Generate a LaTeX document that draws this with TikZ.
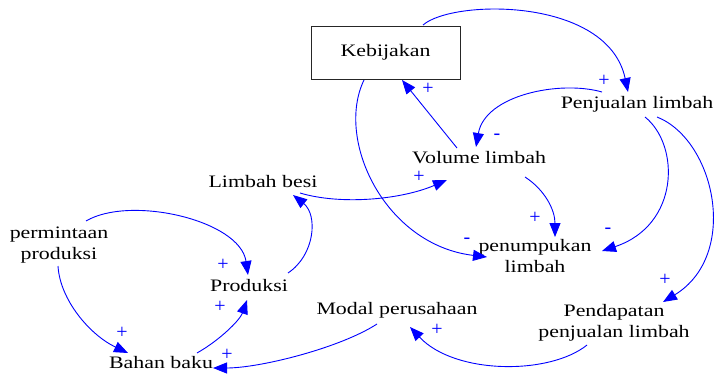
\documentclass[tikz,border=0pt]{standalone}
\usepackage{fontspec}
\setmainfont{Liberation Serif}[FakeStretch=1.25]
\newfontfamily\signfont{Liberation Serif}
\usetikzlibrary{arrows.meta,calc}
\begin{document}
\begin{tikzpicture}[x=1pt,y=-1pt,
  lbl/.style={inner sep=0pt,align=center,font=\fontsize{17.5}{21.5}\selectfont},
  sgn/.style={inner sep=0pt,text=blue,font=\signfont\fontsize{20}{20}\selectfont},
  lnk/.style={draw=blue,line width=0.9pt,-{Triangle[length=14pt,width=11pt]},fill=none}]
\fill[white] (0,0) rectangle (719,379);
\useasboundingbox (0,0) rectangle (719,379);
% nodes
\node[draw=black!85,line width=0.9pt,minimum width=149pt,minimum height=53pt,inner sep=0pt,font=\fontsize{17.5}{21.5}\selectfont] (keb) at (385.5,52.5) {Kebijakan};
\node[lbl] (pj) at (637,104) {Penjualan limbah};
\node[lbl] (vol) at (479,158) {Volume limbah};
\node[lbl] (lb) at (263,182) {Limbah besi};
\node[lbl] (perm) at (59,245) {permintaan\\produksi};
\node[lbl] (prod) at (249,286) {Produksi};
\node[lbl] (bb) at (161,363) {Bahan baku};
\node[lbl] (modal) at (397,310) {Modal perusahaan};
\node[lbl] (penum) at (535,256) {penumpukan\\limbah};
\node[lbl] (pend) at (614,323) {Pendapatan\\penjualan limbah};
% links
\draw[lnk] ($(keb)+(37.5,-27.5)$) .. controls +(30,-26) and +(-20,-95) .. ($(pj)+(-9,-12)$);
\draw[lnk] ($(pj)+(-35,-12)$) .. controls +(-42,-12) and +(9,-52) .. ($(vol)+(-3,-11)$);
\draw[lnk] ($(vol)+(-22,-10)$) -- ($(keb)+(16.5,27.5)$);
\draw[lnk] ($(keb)+(-21.5,27.5)$) .. controls +(-29,60) and +(-102,-12) .. ($(penum)+(-48,1)$);
\draw[lnk] ($(vol)+(46,19)$) .. controls +(20,13) and +(0,-27) .. ($(penum)+(20,-19)$);
\draw[lnk] ($(pj)+(8,13)$) .. controls +(35,28) and +(78,-26) .. ($(penum)+(67,-5)$);
\draw[lnk] ($(pj)+(20,13)$) .. controls +(58,23) and +(77,-47) .. ($(pend)+(49,-21)$);
\draw[lnk] ($(pend)+(-27,22)$) .. controls +(-37,30) and +(45,48) .. ($(modal)+(13,17)$);
\draw[lnk] ($(modal)+(-20,14)$) .. controls +(-37,24) and +(47,0) .. ($(bb)+(52,5)$);
\draw[lnk] ($(lb)+(37,11)$) .. controls +(40,12) and +(-47,20) .. ($(vol)+(-32,22)$);
\draw[lnk] ($(prod)+(39,-13)$) .. controls +(27,-18) and +(25,20) .. ($(lb)+(30,13)$);
\draw[lnk] ($(perm)+(27,-24)$) .. controls +(44,-26) and +(-8,-55) .. ($(prod)+(-1,-11)$);
\draw[lnk] ($(perm)+(-1,21)$) .. controls +(2,34) and +(-38,-18) .. ($(bb)+(-33,-10)$);
\draw[lnk] ($(bb)+(36,-10)$) .. controls +(23,-13) and +(-7,20) .. ($(prod)+(-2,14)$);
% signs
\node[sgn] (s1) at (604,81) {+};
\node[sgn] (s2) at (497,137) {-};
\node[sgn] (s3) at (428,89) {+};
\node[sgn] (s4) at (467,241) {-};
\node[sgn] (s5) at (535,218) {+};
\node[sgn] (s6) at (608,231) {-};
\node[sgn] (s7) at (665,280) {+};
\node[sgn] (s8) at (437,330) {+};
\node[sgn] (s9) at (227,355) {+};
\node[sgn] (s10) at (419,177) {+};
\node[sgn] (s12) at (223,265) {+};
\node[sgn] (s13) at (122,333) {+};
\node[sgn] (s14) at (220,307) {+};
\end{tikzpicture}
\end{document}
